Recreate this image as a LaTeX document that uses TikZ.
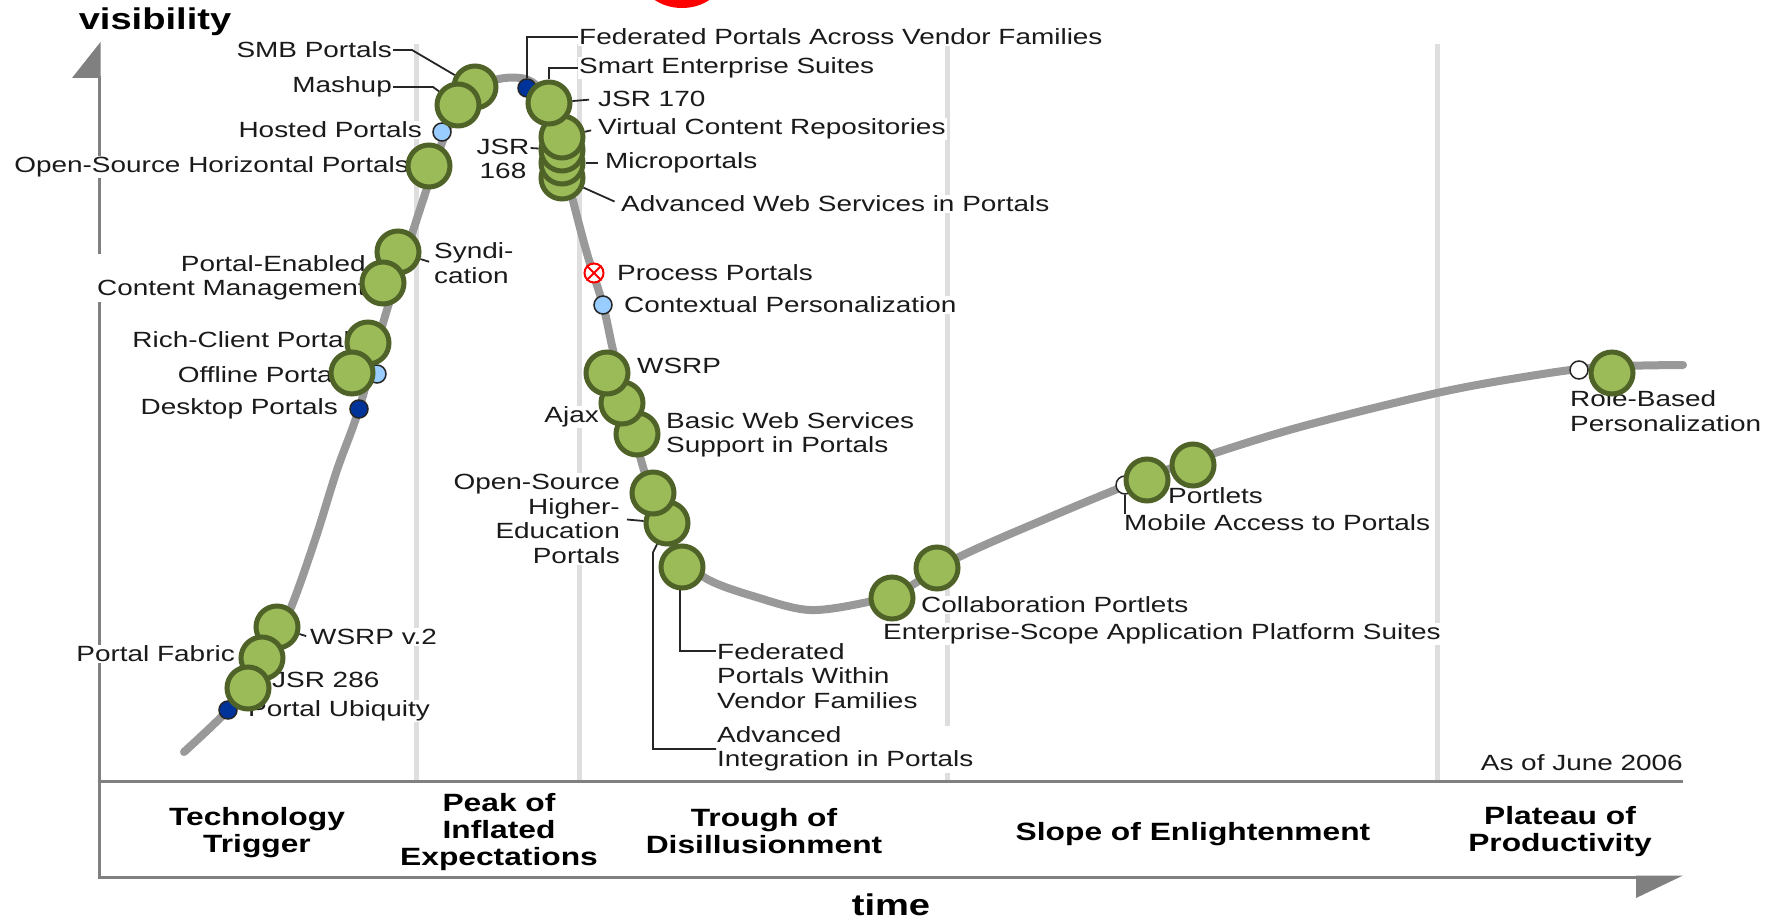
\documentclass[tikz,border=0pt]{standalone}
\usepackage{fontspec}
\setmainfont{Liberation Sans}[FakeStretch=1.27]
\usepackage{tikz}
\definecolor{bubblefill}{HTML}{9BBB59}
\definecolor{bubbleline}{HTML}{4F6228}
\definecolor{curvegray}{HTML}{999999}
\definecolor{sepgray}{HTML}{DEDEDE}
\definecolor{axisgray}{HTML}{808080}
\definecolor{lightdot}{HTML}{99CCFF}
\definecolor{darkdot}{HTML}{003399}
\definecolor{labeltext}{HTML}{1A1A1A}
\newcommand{\lblfont}{\fontsize{22}{24.5}\selectfont}
\newcommand{\phasefont}{\fontsize{25}{27}\selectfont\bfseries}
\newcommand{\axistitlefont}{\fontsize{30}{32}\selectfont\bfseries}

\begin{document}
\begin{tikzpicture}[
  x=1pt, y=-1pt,
  bubble/.style={circle, draw=bubbleline, fill=bubblefill, line width=5pt, minimum size=42pt, inner sep=0pt},
  marker/.style={circle, draw=black!85, fill=#1, line width=1.5pt, minimum size=18pt, inner sep=0pt},
  lbl/.style={font=\lblfont, text=labeltext, fill=white, inner sep=1pt},
  phase/.style={font=\phasefont, text=black, align=center, inner sep=0pt},
  leader/.style={draw=black!85, line width=1.8pt},
  sep/.style={draw=sepgray, line width=5pt},
  axis/.style={draw=axisgray, line width=3pt},
  hype/.style={draw=curvegray, line width=8pt, line cap=round, line join=round}
]
  \useasboundingbox (0,0) rectangle (1777,920);

  % red mark cut off at the top edge
  \fill[red] (682,-22) ellipse [x radius=40, y radius=30];

  % phase separators
  \foreach \x in {416,579,947,1437}
    \draw[sep] (\x,44) -- (\x,781);

  % axes
  \draw[axis] (99,877) -- (99,76);
  \fill[axisgray] (100.5,42) -- (72,78) -- (100.5,78) -- cycle;
  \draw[axis] (97.5,781) -- (1683,781);
  \draw[axis] (97.5,877) -- (1640,877);
  \fill[axisgray] (1636,875.5) -- (1683,875.5) -- (1636,898) -- cycle;

  % hype curve
  \draw[hype] plot[smooth, tension=0.55] coordinates {
    (184,752) (228,710) (262,667) (290,610) (315,540) (337,470) (359,409)
    (386,313) (410,240) (428,185) (445,135) (462,103) (482,85) (505,78)
    (528,80) (546,96) (558,128) (568,180) (586,250) (603,305) (613,350)
    (627,405) (641,460) (657,510) (677,552) (707,579) (756,597) (810,610)
    (868,602) (900,592) (959,557) (1050,517) (1130,484) (1200,458)
    (1300,427) (1437,393) (1530,376) (1600,367) (1683,365)};

  % axis titles and phases
  \node[font=\axistitlefont] (visibility) at (155,22) {visibility};
  \node[font=\axistitlefont] (time) at (891,905) {time};
  \node[phase] (trigger) at (257,833) {Technology\\Trigger};
  \node[phase] (peak) at (499,832) {Peak of\\Inflated\\Expectations};
  \node[phase] (trough) at (764,831) {Trough of\\Disillusionment};
  \node[phase] (slope) at (1193,834) {Slope of Enlightenment};
  \node[phase] (plateau) at (1560,832) {Plateau of\\Productivity};
  \node[lbl, anchor=east] (asof) at (1684,763) {As of June 2006};

  % labels - rising slope
  \node[lbl, anchor=east] (smbL) at (393,50) {SMB Portals};
  \node[lbl, anchor=east] (mashupL) at (393,87) {Mashup};
  \node[lbl, anchor=east] (hostedL) at (423,130) {Hosted Portals};
  \node[lbl, anchor=east] (oshpL) at (410,167) {Open-Source Horizontal Portals};
  \node[lbl, anchor=west, align=left] (syndL) at (433,263) {Syndi-\\cation};
  \node[lbl, anchor=east, align=right] (pecmL) at (367,278) {Portal-Enabled\\Content Management};
  \node[lbl, anchor=east] (richL) at (351,340) {Rich-Client Portal};
  \node[lbl, anchor=east] (offlineL) at (340,375) {Offline Portal};
  \node[lbl, anchor=east] (desktopL) at (339,409) {Desktop Portals};
  \node[lbl, anchor=west] (wsrp2L) at (309,637) {WSRP v.2};
  \node[lbl, anchor=east] (fabricL) at (236,654) {Portal Fabric};
  \node[lbl, anchor=west] (jsr286L) at (271,680) {JSR 286};
  \node[lbl, anchor=west] (ubiquityL) at (247,711) {Portal Ubiquity};

  % labels - peak and falling slope
  \node[lbl, anchor=west] (fedacrossL) at (578,37) {Federated Portals Across Vendor Families};
  \node[lbl, anchor=west] (smartL) at (578,68) {Smart Enterprise Suites};
  \node[lbl, anchor=west] (jsr170L) at (597,99) {JSR 170};
  \node[lbl, anchor=west] (vcrL) at (597,129) {Virtual Content Repositories};
  \node[lbl, align=center] (jsr168L) at (503,159) {JSR\\168};
  \node[lbl, anchor=west] (microL) at (604,163) {Microportals};
  \node[lbl, anchor=west] (awsL) at (620,204) {Advanced Web Services in Portals};
  \node[lbl, anchor=west] (processL) at (616,273) {Process Portals};
  \node[lbl, anchor=west] (contextualL) at (623,305) {Contextual Personalization};
  \node[lbl, anchor=west] (wsrpL) at (636,366) {WSRP};
  \node[lbl, anchor=east] (ajaxL) at (600,417) {Ajax};
  \node[lbl, anchor=west, align=left] (basicL) at (665,435) {Basic Web Services\\Support in Portals};
  \node[lbl, anchor=east, align=right] (osheL) at (621,519) {Open-Source\\Higher-\\Education\\Portals};
  \node[lbl, anchor=west, align=left] (fedwithinL) at (716,676) {Federated\\Portals Within\\Vendor Families};
  \node[lbl, anchor=west, align=left] (advintL) at (716,749) {Advanced\\Integration in Portals};

  % labels - trough, slope and plateau
  \node[lbl, anchor=west] (collabL) at (920,605) {Collaboration Portlets};
  \node[lbl, anchor=west] (esapsL) at (882,634) {Enterprise-Scope Application Platform Suites};
  \node[lbl, anchor=west] (portletsL) at (1167,496) {Portlets};
  \node[lbl, anchor=west] (mobileL) at (1123,523) {Mobile Access to Portals};
  \node[lbl, anchor=west, align=left] (roleL) at (1569,411) {Role-Based\\Personalization};

  % small markers
  \node[marker=lightdot] (hosted) at (442,132) {};
  \node[marker=darkdot] (fedacross) at (527,88) {};
  \node[marker=lightdot] (offlinedot) at (377,374) {};
  \node[marker=darkdot] (desktop) at (359,409) {};
  \node[marker=darkdot] (ubiquity) at (228,710) {};
  \node[marker=lightdot] (contextual) at (603,305) {};
  \node[marker=white] (mobiledot) at (1125,485) {};
  \node[marker=white] (roledot) at (1579,370) {};
  \node[circle, draw=red, fill=white, line width=2pt, minimum size=19pt, inner sep=0pt] (process) at (594,273) {};
  \draw[red, line width=2pt] (process.45) -- (process.225) (process.135) -- (process.-45);

  % bubbles, latest first so earlier ones sit on top
  \node[bubble] (rolebased) at (1612,373) {};
  \node[bubble] (portlets) at (1193,465) {};
  \node[bubble] (mobile) at (1147,480) {};
  \node[bubble] (esaps) at (937,568) {};
  \node[bubble] (collab) at (892,598) {};
  \node[bubble] (fedwithin) at (682,567) {};
  \node[bubble] (advint) at (667,523) {};
  \node[bubble] (oshe) at (653,493) {};
  \node[bubble] (basic) at (637,434) {};
  \node[bubble] (ajax) at (622,403) {};
  \node[bubble] (wsrp) at (607,373) {};
  \node[bubble] (aws) at (562,178) {};
  \node[bubble] (micro) at (562,163) {};
  \node[bubble] (jsr168) at (562,150) {};
  \node[bubble] (vcr) at (562,137) {};
  \node[bubble] (smart) at (549,103) {};
  \node[bubble] (smb) at (475,87) {};
  \node[bubble] (mashup) at (458,105) {};
  \node[bubble] (oshp) at (429,166) {};
  \node[bubble] (synd) at (398,252) {};
  \node[bubble] (pecm) at (383,283) {};
  \node[bubble] (rich) at (368,343) {};
  \node[bubble] (offline) at (352,373) {};
  \node[bubble] (wsrp2) at (277,627) {};
  \node[bubble] (fabric) at (262,658) {};
  \node[bubble] (jsr286) at (248,688) {};

  % leader lines
  \draw[leader] (smbL.east) -- ++(19,0) -- (smb);
  \draw[leader] (mashupL.east) -- ++(40,0) -- (mashup);
  \draw[leader] (fedacross.north) |- (fedacrossL.west);
  \draw[leader] (smart.north) |- (smartL.west);
  \draw[leader, shorten >=8pt] (smart) -- (jsr170L.west);
  \draw[leader, shorten >=6pt] (vcr) -- (vcrL.west);
  \draw[leader] ([yshift=11pt]jsr168L.east) -- (jsr168);
  \draw[leader, shorten >=6pt] (micro) -- (microL.west);
  \draw[leader, shorten >=6pt] (aws) -- (awsL.west);
  \draw[leader, shorten >=4pt] (synd) -- (syndL.west);
  \draw[leader, shorten >=3pt] (wsrp2) -- (wsrp2L.west);
  \draw[leader, shorten <=6pt] (osheL.east) -- (advint);
  \draw[leader] (advint.-115) -- ++(-4,8) |- (advintL.west);
  \draw[leader] (fedwithin.-95) |- ([yshift=25pt]fedwithinL.west);
  \draw[leader] (mobiledot) -- (mobiledot |- mobileL.north);
\end{tikzpicture}
\end{document}
